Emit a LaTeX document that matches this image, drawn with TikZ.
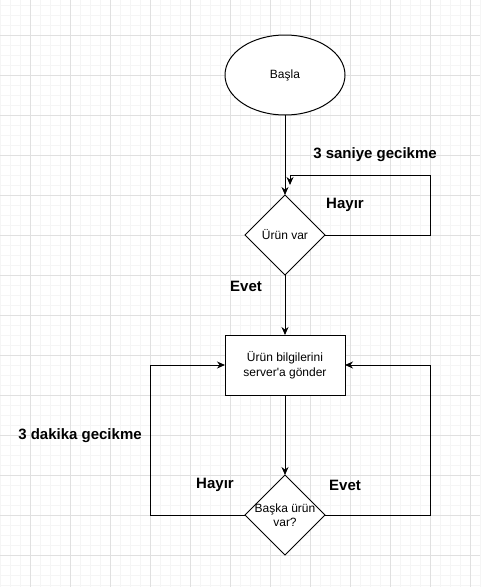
\documentclass[tikz,border=0pt]{standalone}
\usepackage{fontspec}
\setmainfont{Liberation Sans}
\newfontfamily\rawfont{Liberation Sans}
\usetikzlibrary{shapes.geometric,arrows.meta}
\definecolor{gridminor}{RGB}{245,245,245}
\definecolor{gridmajor}{RGB}{224,224,224}
\tikzset{
  shapebase/.style={draw=black, line width=1pt, fill=white, inner sep=0pt, outer sep=0pt,
    font=\fontsize{12}{15}\selectfont, align=center},
  startshape/.style={shapebase, ellipse, minimum width=120pt, minimum height=80pt},
  boxshape/.style={shapebase, rectangle, minimum width=120pt, minimum height=60pt},
  diashape/.style={shapebase, diamond, minimum width=80pt, minimum height=80pt},
  lbl/.style={font=\fontsize{15}{18}\selectfont\bfseries, inner sep=0pt},
  arr/.style={draw=black, line width=1pt, -{Stealth[length=8pt,width=7pt]}},
  plain/.style={draw=black, line width=1pt},
}
\begin{document}
\begin{tikzpicture}[x=1pt,y=-1pt]
\useasboundingbox (0,0) rectangle (480,587);
\fill[white] (0,0) rectangle (480,587);
% grid
\foreach \gx in {0,10,...,480} {\draw[gridminor, line width=1pt] (\gx,0) -- (\gx,587);}
\foreach \gy in {5,15,...,585} {\draw[gridminor, line width=1pt] (0,\gy) -- (480,\gy);}
\foreach \gx in {30,70,...,470} {\draw[gridmajor, line width=1pt] (\gx,0) -- (\gx,587);}
\foreach \gy in {35,75,...,575} {\draw[gridmajor, line width=1pt] (0,\gy) -- (480,\gy);}

% nodes
\node[startshape] (start) at (285,75) {Başla};
\node[diashape, label={[font=\fontsize{12}{15}\selectfont]center:Ürün var}] (d1) at (285,235) {};
\node[boxshape] (box) at (285,365) {Ürün bilgilerini\\server{\rawfont'}a gönder};
\node[diashape, label={[font=\fontsize{12}{14}\selectfont, align=center]center:Başka ürün\\var?}] (d2) at (285,515) {};

\coordinate (loopend) at (290,185);
\coordinate (looptop) at (430,175);

% connectors
\draw[arr] (start.south) -- (d1.north);
\draw[arr] (d1.east) -| (looptop) -| (loopend);
\draw[arr] (d1.south) -- (box.north);
\draw[arr] (box.south) -- (d2.north);
\draw[arr] (d2.west) -- ++(-95,0) |- (box.west);
\draw[arr] (d2.east) -- ++(105,0) |- (box.east);

% labels
\node[lbl] (l1) at (375,155) {3 saniye gecikme};
\node[lbl] (l2) at (345,205) {Hayır};
\node[lbl] (l3) at (246,286) {Evet};
\node[lbl] (l4) at (80,436) {3 dakika gecikme};
\node[lbl] (l5) at (215,485) {Hayır};
\node[lbl] (l6) at (345,485) {Evet};
\end{tikzpicture}
\end{document}
